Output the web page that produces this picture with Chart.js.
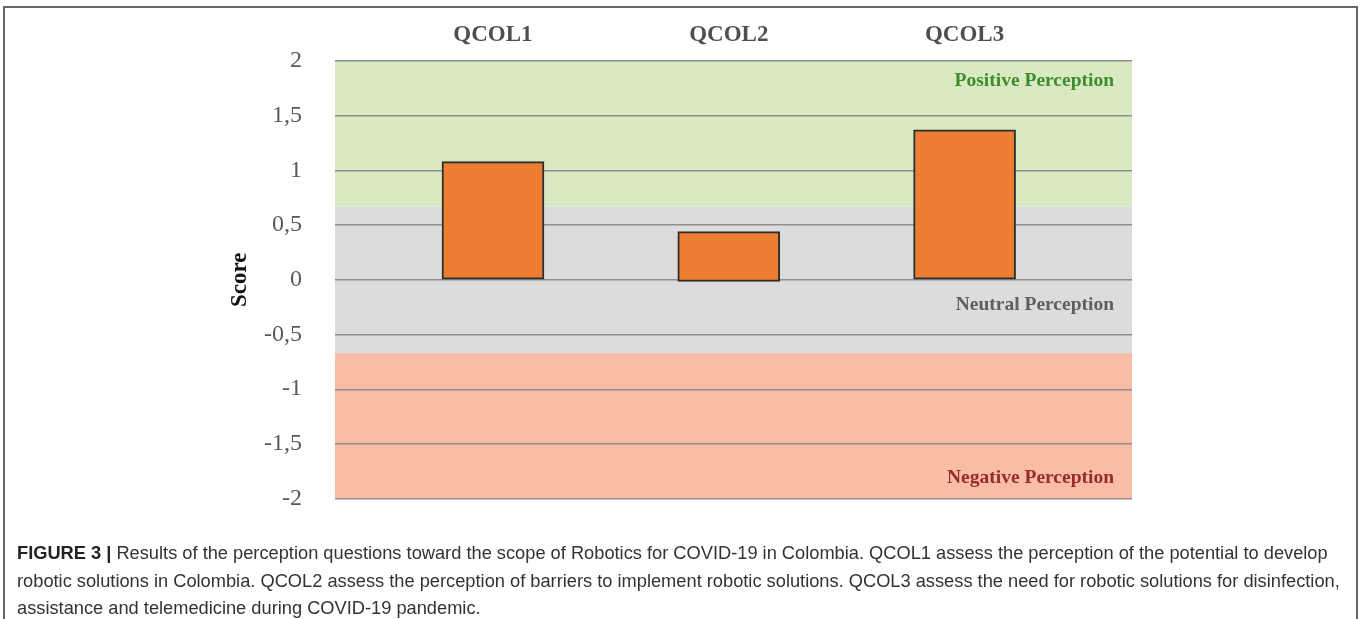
<!DOCTYPE html>
<html>
<head>
<meta charset="utf-8">
<script src="https://cdn.jsdelivr.net/npm/chart.js@4"></script>
<style>
  body { margin: 0; background: #fff; width: 1360px; height: 619px; overflow: hidden; position: relative; }
  #frame { position: absolute; left: 3px; top: 6px; width: 1351px; height: 700px; border: 2px solid #666; }
  #wrap { position: absolute; left: 0; top: 0; width: 1360px; height: 546px; }
  #caption { position: absolute; left: 17px; top: 539px; font-family: "Liberation Sans", Arial, sans-serif; font-size: 18.25px; line-height: 27.5px; color: #333; white-space: nowrap; }
  #caption b { color: #222; }
</style>
</head>
<body>
<div id="frame"></div>
<div id="wrap"><canvas id="barChart" width="1360" height="546"></canvas></div>
<div id="caption">
  <b>FIGURE 3 |</b> Results of the perception questions toward the scope of Robotics for COVID-19 in Colombia. QCOL1 assess the perception of the potential to develop<br>
  robotic solutions in Colombia. QCOL2 assess the perception of barriers to implement robotic solutions. QCOL3 assess the need for robotic solutions for disinfection,<br>
  assistance and telemedicine during COVID-19 pandemic.
</div>
<script>
const categories = ['QCOL1', 'QCOL2', 'QCOL3'];
const scoreLow = [0, -0.015, 0];
const scoreHigh = [1.08, 0.44, 1.37];
const yTicks = [-2, -1.5, -1, -0.5, 0, 0.5, 1, 1.5, 2];

// perception bands
const bands = [
  { from: 0.67, to: 2, fill: '#d9e9c2', label: 'Positive Perception', color: '#3f8c2e', at: 1.82 },
  { from: -0.67, to: 0.67, fill: '#dcdcdc', label: 'Neutral Perception', color: '#5f5f5f', at: -0.23 },
  { from: -2, to: -0.67, fill: '#f9bda6', label: 'Negative Perception', color: '#982b2c', at: -1.81 }
];

const serif = '"Liberation Serif", "Times New Roman", serif';

const bandPlugin = {
  id: 'bands',
  beforeDraw(chart) {
    const { ctx, chartArea, scales } = chart;
    ctx.save();
    bands.forEach(b => {
      const y1 = scales.y.getPixelForValue(b.to);
      const y2 = scales.y.getPixelForValue(b.from);
      ctx.fillStyle = b.fill;
      ctx.fillRect(chartArea.left, y1, chartArea.right - chartArea.left, y2 - y1);
    });
    ctx.restore();
  },
  afterDraw(chart) {
    const { ctx, chartArea, scales } = chart;
    ctx.save();
    ctx.font = 'bold 19.5px ' + serif;
    ctx.textAlign = 'right';
    ctx.textBaseline = 'middle';
    bands.forEach(b => {
      ctx.fillStyle = b.color;
      ctx.fillText(b.label, chartArea.right - 18, scales.y.getPixelForValue(b.at));
    });
    // y title
    ctx.translate(240, (chartArea.top + chartArea.bottom) / 2);
    ctx.rotate(-Math.PI / 2);
    ctx.textAlign = 'center';
    ctx.fillStyle = '#111';
    ctx.font = 'bold 23px ' + serif;
    ctx.fillText('Score', 0, 0);
    ctx.restore();
  }
};

const ctx = document.getElementById('barChart').getContext('2d');
new Chart(ctx, {
  type: 'bar',
  data: {
    datasets: [{
      data: categories.map((c, i) => ({ x: i + 1, y: [scoreLow[i], scoreHigh[i]] })),
      backgroundColor: '#ed7d31',
      borderColor: '#2e2e2e',
      borderWidth: 2,
      borderSkipped: false,
      barThickness: 102
    }]
  },
  options: {
    responsive: false,
    animation: false,
    layout: { padding: { left: 0, right: 228, top: 0, bottom: 17 } },
    plugins: { legend: { display: false }, tooltip: { enabled: false } },
    scales: {
      x: {
        type: 'linear',
        position: 'top',
        offset: false,
        min: 0.33,
        max: 3.71,
        afterBuildTicks: scale => { scale.ticks = categories.map((c, i) => ({ value: i + 1 })); },
        afterFit: scale => { scale.height = 61; },
        grid: { display: false, drawTicks: false },
        border: { display: false },
        ticks: {
          padding: 12,
          maxRotation: 0,
          color: '#4f4f4f',
          font: { family: serif, size: 23, weight: 'bold' },
          callback: v => categories[v - 1]
        }
      },
      y: {
        min: -2,
        max: 2,
        afterBuildTicks: scale => { scale.ticks = yTicks.map(v => ({ value: v })); },
        afterFit: scale => { scale.width = 335; },
        grid: { color: '#8e8e8e', lineWidth: 1.4, drawTicks: false },
        border: { display: false },
        ticks: {
          padding: 33,
          color: '#595959',
          font: { family: serif, size: 24 },
          callback: v => String(v).replace('.', ',')
        }
      }
    }
  },
  plugins: [bandPlugin]
});
</script>
</body>
</html>
